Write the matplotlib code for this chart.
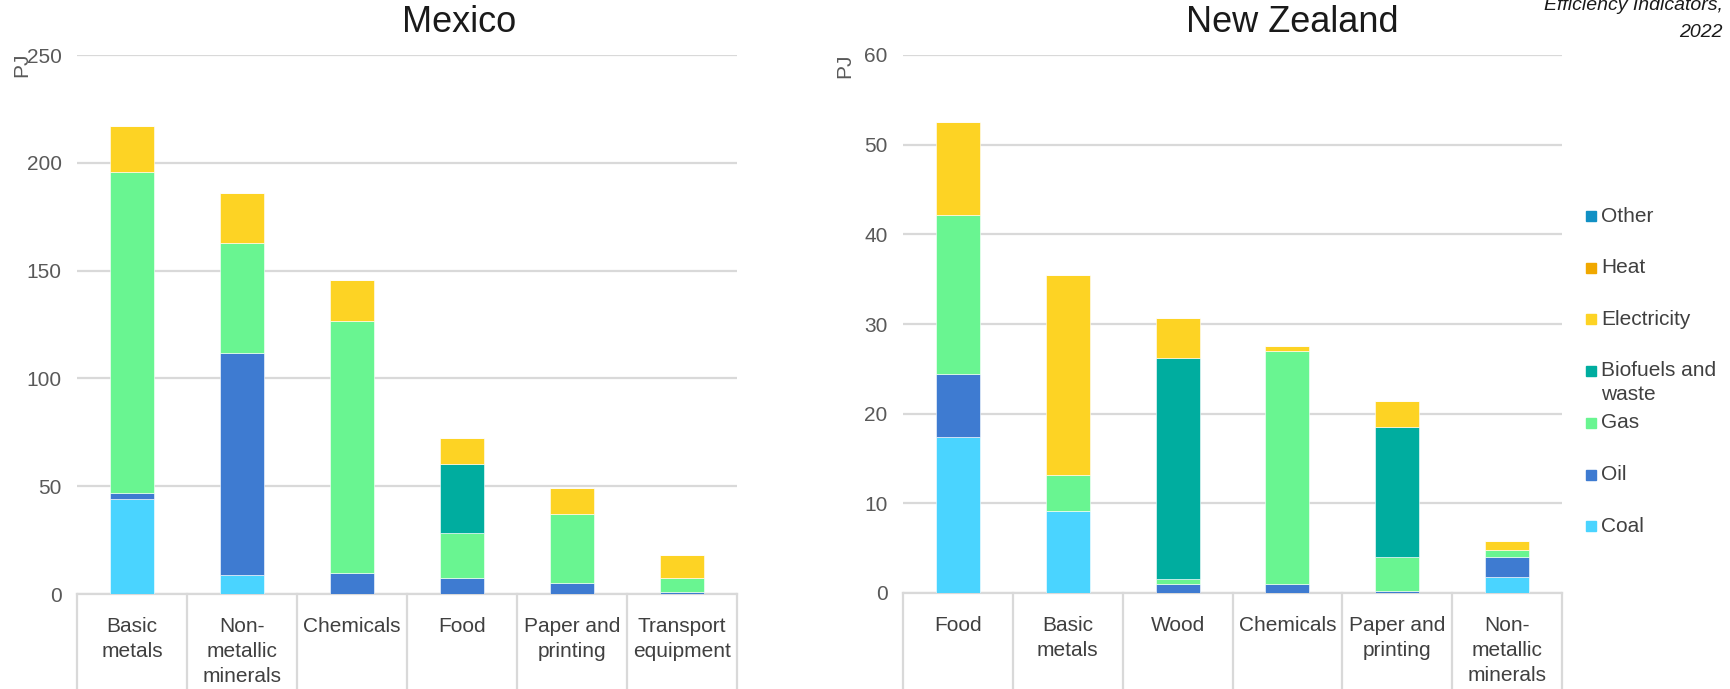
import matplotlib
matplotlib.use("Agg")
import matplotlib.pyplot as plt
from matplotlib.patches import Rectangle
from matplotlib.transforms import blended_transform_factory
import numpy as np

plt.rcParams['font.family'] = ['Liberation Sans', 'DejaVu Sans']

#%% data (PJ)

series = ['Coal', 'Oil', 'Gas', 'Biofuels and waste', 'Electricity', 'Heat', 'Other']
colors = {'Coal': '#4ad4ff', 'Oil': '#3e7bd1', 'Gas': '#69f591',
          'Biofuels and waste': '#00ad9f', 'Electricity': '#fdd324',
          'Heat': '#f0a800', 'Other': '#1190c4'}

mex_cats = ['Basic\nmetals', 'Non-\nmetallic\nminerals', 'Chemicals', 'Food',
            'Paper and\nprinting', 'Transport\nequipment']
mex_coal = [44.0, 9.0, 0.0, 0.0, 0.0, 0.0]
mex_oil = [3.0, 103.0, 9.6, 7.3, 5.3, 0.7]
mex_gas = [148.7, 51.0, 117.2, 21.2, 31.6, 6.6]
mex_bio = [0.0, 0.0, 0.0, 31.6, 0.0, 0.0]
mex_elec = [21.3, 23.0, 19.0, 12.4, 12.1, 10.6]
mex_heat = [0, 0, 0, 0, 0, 0]
mex_other = [0, 0, 0, 0, 0, 0]

nz_cats = ['Food', 'Basic\nmetals', 'Wood', 'Chemicals', 'Paper and\nprinting',
           'Non-\nmetallic\nminerals']
nz_coal = [17.4, 9.2, 0.0, 0.0, 0.0, 1.8]
nz_oil = [7.0, 0.0, 1.0, 1.0, 0.24, 2.2]
nz_gas = [17.8, 4.0, 0.55, 26.0, 3.75, 0.8]
nz_bio = [0.0, 0.0, 24.65, 0.0, 14.5, 0.0]
nz_elec = [10.3, 22.3, 4.5, 0.6, 2.9, 1.0]
nz_heat = [0, 0, 0, 0, 0, 0]
nz_other = [0, 0, 0, 0, 0, 0]

mex = [mex_coal, mex_oil, mex_gas, mex_bio, mex_elec, mex_heat, mex_other]
nz = [nz_coal, nz_oil, nz_gas, nz_bio, nz_elec, nz_heat, nz_other]

W, H = 1731, 689
fig = plt.figure(figsize=(W / 100, H / 100), dpi=100)

grid_c = '#d9d9d9'
txt_c = '#595959'
fs = 15


def px(x, y):
    # pixel position -> figure fraction
    return x / W, 1 - y / H


def stacked(ax, cats, data, ymax, step):
    x = np.arange(len(cats))
    bottom = np.zeros(len(cats))
    for name, vals in zip(series, data):
        vals = np.array(vals, dtype=float)
        ax.bar(x, vals, 0.4, bottom=bottom, color=colors[name],
               edgecolor='white', linewidth=0.4, zorder=3)
        bottom += vals
    ax.set_xlim(-0.5, len(cats) - 0.5)
    ax.set_ylim(0, ymax)
    ax.set_yticks(np.arange(0, ymax + step / 2, step))
    ax.yaxis.grid(True, color=grid_c, linewidth=1.6, zorder=0)
    ax.tick_params(axis='y', length=0, pad=11, labelsize=fs, labelcolor=txt_c)
    ax.set_xticks([])
    for s in ['top', 'right', 'left']:
        ax.spines[s].set_visible(False)
    ax.spines['bottom'].set_color(grid_c)
    ax.spines['bottom'].set_linewidth(1.6)
    # category boxes under the axis
    tr = blended_transform_factory(ax.transData, ax.transAxes)
    for i in range(len(cats) + 1):
        ax.plot([i - 0.5, i - 0.5], [0, -0.25], color=grid_c, lw=1.6,
                transform=tr, clip_on=False)
    for i, c in enumerate(cats):
        ax.text(i, -0.043, c, transform=tr, ha='center', va='top',
                fontsize=fs, color='#404040', linespacing=1.38)


ax1 = fig.add_axes([77 / W, 95 / H, 660 / W, 539 / H])
stacked(ax1, mex_cats, mex, 250, 50)
ax2 = fig.add_axes([903 / W, 96 / H, 659 / W, 538 / H])
stacked(ax2, nz_cats, nz, 60, 10)

fig.text(*px(459, 22), 'Mexico', ha='center', va='center', fontsize=26, color='#1a1a1a')
fig.text(*px(1292, 22), 'New Zealand', ha='center', va='center', fontsize=26, color='#1a1a1a')

fig.text(*px(22, 65), 'PJ', rotation=90, ha='center', va='center', fontsize=fs, color=txt_c)
fig.text(*px(845, 66), 'PJ', rotation=90, ha='center', va='center', fontsize=fs, color=txt_c)

# legend, Coal at the bottom
y0, dy = 216, 51.7
for i, name in enumerate(series[::-1]):
    yc = y0 + i * dy
    fig.patches.append(Rectangle(px(1586, yc + 5), 10 / W, 10 / H,
                                 transform=fig.transFigure, color=colors[name]))
    if name == 'Biofuels and waste':
        fig.text(*px(1601, yc - 10), 'Biofuels and\nwaste', ha='left', va='top',
                 fontsize=fs, color='#404040', linespacing=1.3)
    else:
        fig.text(*px(1601, yc), name, ha='left', va='center', fontsize=fs, color='#404040')

fig.text(*px(1723, 37), 'Efficiency Indicators,\n2022', ha='right', va='baseline',
         fontsize=14, style='italic', color='#1a1a1a', linespacing=1.75)

fig.savefig('out.png', dpi=100)
